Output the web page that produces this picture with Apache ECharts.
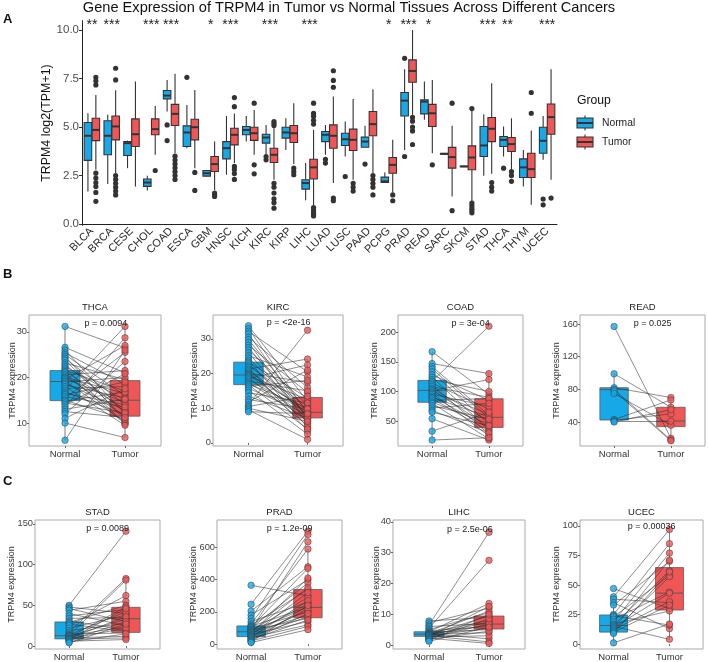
<!DOCTYPE html>
<html><head><meta charset="utf-8">
<script src="https://cdn.jsdelivr.net/npm/echarts@6/dist/echarts.min.js"></script>
<style>html,body{margin:0;padding:0;background:#fff}#c{width:708px;height:662px}</style>
</head><body><div id="c"></div>
<script>
// ---------- Panel A data ----------
const cancers = ['BLCA','BRCA','CESE','CHOL','COAD','ESCA','GBM','HNSC','KICH','KIRC','KIRP','LIHC','LUAD','LUSC','PAAD','PCPG','PRAD','READ','SARC','SKCM','STAD','THCA','THYM','UCEC'];
const stars = ['**','***','','***','***','','*','***','','***','','***','','','','*','***','*','','','***','**','','***'];
const yTicksA = [0, 2.5, 5, 7.5, 10];
// [lower whisker, q1, median, q3, upper whisker]
const normalStats = [
 [1.68,3.28,4.55,5.23,5.71],[2.06,3.57,4.55,5.32,5.63],[2.88,3.53,4.17,4.25,4.3],[1.73,1.94,2.14,2.32,2.49],
 [5.8,6.45,6.62,6.88,7.43],[3.9,4.0,4.72,5.06,6.14],[2.45,2.47,2.62,2.76,2.78],[2.54,3.36,3.91,4.25,5.57],
 [4.25,4.6,4.85,5.03,5.57],[3.57,4.17,4.46,4.63,5.11],[3.82,4.43,4.72,4.99,5.45],[1.22,1.8,2.11,2.28,3.14],
 [3.57,4.25,4.6,4.77,5.11],[3.48,4.05,4.37,4.68,5.28],[3.96,3.96,4.25,4.48,5.06],[2.14,2.14,2.2,2.42,2.66],
 [3.82,5.57,6.36,6.78,7.98],[5.37,5.68,6.31,6.4,7.34],[3.6,3.6,3.62,3.64,3.64],[2.96,2.96,2.97,2.98,2.98],
 [2.49,3.48,4.05,5.03,5.66],[3.48,4.0,4.34,4.51,5.03],[1.94,2.4,2.92,3.36,3.82],[3.31,3.65,4.29,4.99,5.57]
];
const tumorStats = [
 [2.8,4.3,4.85,5.45,6.65],[2.62,4.34,5.03,5.57,6.9],[1.94,4.0,4.63,5.42,7.34],[3.57,4.6,4.89,5.42,6.09],
 [3.65,5.08,5.68,6.17,7.74],[2.88,4.34,4.99,5.4,6.91],[1.75,2.71,3.09,3.48,4.25],[3.14,4.08,4.6,4.94,5.7],
 [3.57,4.31,4.68,4.99,5.88],[2.28,3.17,3.57,3.91,4.95],[3.1,4.2,4.68,5.08,6.23],[0.95,2.32,2.92,3.34,4.85],
 [2.11,3.91,4.55,5.11,6.57],[2.28,3.79,4.34,4.89,6.45],[2.62,4.55,5.15,5.8,6.95],[1.63,2.62,3.05,3.43,4.34],
 [5.63,7.31,7.89,8.46,10.0],[3.65,5.03,5.71,6.17,7.43],[1.42,2.88,3.45,3.95,5.06],[1.17,2.8,3.43,4.03,5.85],
 [2.59,4.25,4.91,5.49,7.26],[2.8,3.74,4.12,4.46,5.45],[0.99,2.4,2.83,3.65,4.82],[2.28,4.63,5.51,6.19,7.98]
];
const normalOutliers = [
 [],[],[],[],[5.11,4.3],[7.56],[],[],[],[3.48,3.31],[],[],[3.34,3.14],[2.45],[3.09],[],[8.54,3.48],[],[],[],[],[2.88],[],[1.29,0.99]
];
const tumorOutliers = [
 [7.56,7.38,7.17,2.62,2.37,2.14,1.94,1.63,1.17],[8.03,7.43,2.5,2.3,2.1,1.9,1.7,1.5],[],[2.76],
 [3.5,3.3,3.1,2.9,2.7,2.5,2.3],[2.66,1.73],[1.6,1.5,1.42],[6.52,6.05,2.97,2.8,2.6,2.3],
 [6.23,3.05,2.59],[5.28,5.18,5.08,2.1,1.9,1.6,1.3,1.1,0.82],[2.88,2.7,2.54],[6.23,5.7,5.55,5.35,5.15,0.85,0.72,0.6,0.5,0.42],
 [7.9,7.4,7.05,1.34,1.2],[2.1,1.9,1.7],[2.5,2.3,2.1,1.9,1.5],[1.5,1.2],
 [5.5,5.3,5.0,4.8,4.1],[3.05],[6.23,0.69],[5.95,1.08,0.95,0.82,0.7,0.58],
 [2.14,1.9,1.7],[2.7,2.5,2.2],[6.78,5.71],[1.34]
];

// ---------- Panels B / C data (paired samples) ----------
const thcaNormal = [31.2,26.6,26.0,25.4,25.0,24.6,24.2,23.8,23.2,22.8,22.4,22.0,21.6,21.3,21.0,20.6,20.3,20.0,19.8,19.5,19.2,19.0,18.7,18.4,18.0,17.6,17.2,16.8,16.5,16.2,15.8,15.4,15.0,14.8,14.4,14.0,13.5,13.0,12.5,12.0,11.0,10.0,6.2];
const thcaTumor  = [26.5,21.0,12.0,18.5,16.0,10.5,14.0,11.0,19.5,12.5,15.0,10.0,17.0,13.0,9.8,21.5,11.5,16.5,14.5,27.0,10.2,20.0,12.8,15.5,9.5,18.0,31.2,11.8,14.0,19.0,13.5,25.5,10.8,16.8,12.2,20.8,28.7,15.2,11.2,23.5,17.5,6.8,26.0];
const thcaBoxN = [6.2,14.9,19.1,21.5,31.2], thcaBoxT = [6.8,11.5,15.0,19.3,31.2];

const kircNormal = [33.8,33.0,32.2,31.5,30.5,29.8,29.0,28.2,27.5,26.8,26.0,25.2,24.5,23.8,23.3,22.8,22.2,21.8,21.3,20.9,20.5,20.1,19.8,19.6,19.3,19.0,18.6,18.2,17.8,17.4,17.0,16.8,16.3,15.8,15.2,14.5,13.5,12.5,11.8,11.0,10.5,10.0,9.5,9.0];
const kircTumor  = [12.0,8.5,20.5,7.0,16.0,9.0,5.5,14.5,7.5,11.0,6.5,19.0,8.0,4.5,13.0,7.8,10.5,3.5,24.2,8.7,6.0,17.5,9.5,7.3,12.5,5.0,22.5,8.9,15.0,6.8,10.0,4.0,18.0,8.2,2.5,11.5,7.1,9.8,21.0,32.5,13.5,6.2,1.0,8.4];
const kircBoxN = [9.0,16.8,19.6,23.3,33.8], kircBoxT = [1.0,7.2,8.8,13.1,24.2];

const coadNormal = [167,147,142,138,133,128,124,120,117,114,111,108,105,103,101,99,97,95,92,90,88,85,82,80,76,72,68,65,54,33,18];
const coadTumor  = [95,130,60,55,45,85,35,100,210,70,28,90,50,40,120,62,25,75,38,57,33,88,45,20,53,80,30,42,18,65,22];
const coadBoxN = [18,81.7,101.7,118.6,167], coadBoxT = [17,39.3,56.3,87.6,133];

const readNormal = [157,99,82,80,78,75,43,42,41,40];
const readTumor  = [20,58,70,18,17,36,67,50,41,55];
const readBoxN = [40,42.4,79.6,82,99], readBoxT = [17,34.3,41.2,58,70];

const stadNormal = [50,48,46,44,40,37,34,31,29,27,25,22,19,17,15,14,13,12.5,12,11,10,9.5,9,8.5,8,7,6,5,4];
const stadTumor  = [141,40,30,55,25,45,35,20,50,18,62,38,28,83,16,42,81,24,33,48,12,36,22,10,46,30,8,15,27];
const stadBoxN = [4,8.8,12.8,29.6,50], stadBoxT = [7,16.8,33.6,47.6,83];

const pradNormal = [365,248,205,180,160,140,125,115,110,105,100,95,90,86,82,78,75,72,68,64,60,56,52,48,45,40,35,30,25,20,15,10];
const pradTumor  = [300,700,480,400,680,260,590,340,230,470,380,200,635,160,290,230,350,180,410,250,140,320,210,170,270,120,220,150,190,110,240,90];
const pradBoxN = [10,46.7,77,113,205], pradBoxT = [90,163.6,228,339,590];

const lihcNormal = [7.8,7.2,6.5,6.0,5.5,5.0,4.6,4.3,4.1,3.9,3.7,3.6,3.5,3.4,3.3,3.2,3.0,2.9,2.8,2.6,2.4,2.2,2.0,1.8,1.5,1.2];
const lihcTumor  = [9,12,36.6,7,27.5,10.5,6,13.5,5,8,11,2,6.5,4,9.5,7.5,1,5.5,12.5,3,6.8,0.5,8.5,4.5,10,5.8];
const lihcBoxN = [1.2,2.8,3.5,4.3,6.5], lihcBoxT = [0.5,5.2,6.8,9.4,13.5];

const ucecNormal = [47,40,38,35,33,25,24,23,21,19,17,16,15,14,13,12,11,10,9,1];
const ucecTumor  = [30,97,35,13,70,85,16,58,44,77,28,62,4,43,71,36,57,33,61,17];
const ucecBoxN = [1,10.1,15.7,24.6,40], ucecBoxT = [4,28.8,43.1,64.7,97];

const pairTitles = ['THCA','KIRC','COAD','READ','STAD','PRAD','LIHC','UCEC'];
const pLabels = ['p = 0.0094','p = <2e-16','p = 3e-04','p = 0.025','p = 0.0089','p = 1.2e-09','p = 2.5e-06','p = 0.00036'];
const pairYTicks = [[10,20,30],[0,10,20,30],[50,100,150,200],[40,80,120,160],[0,50,100,150],[0,200,400,600],[0,10,20,30,40],[0,25,50,75,100]];
const groups = ['Normal','Tumor'];
const mainTitle = 'Gene Expression of TRPM4 in Tumor vs Normal Tissues Across Different Cancers';

// ---------- styling / layout ----------
const BLUE = '#17A9E7', RED = '#F05656', FONT = 'Liberation Sans, Arial, sans-serif';
const pairData = [
 [thcaNormal,thcaTumor,thcaBoxN,thcaBoxT],[kircNormal,kircTumor,kircBoxN,kircBoxT],
 [coadNormal,coadTumor,coadBoxN,coadBoxT],[readNormal,readTumor,readBoxN,readBoxT],
 [stadNormal,stadTumor,stadBoxN,stadBoxT],[pradNormal,pradTumor,pradBoxN,pradBoxT],
 [lihcNormal,lihcTumor,lihcBoxN,lihcBoxT],[ucecNormal,ucecTumor,ucecBoxN,ucecBoxT]
];
const pairLayout = [
 {left:29,width:132,top:315,height:131,ymin:4.95,ymax:33.7,gap:12},
 {left:213,width:130,top:315,height:131,ymin:-0.9,ymax:36.9,gap:14},
 {left:398,width:125,top:315,height:131,ymin:8,ymax:228.8,gap:19},
 {left:580,width:125,top:315,height:131,ymin:10.6,ymax:171,gap:19},
 {left:35,width:125,top:520,height:132,ymin:-3.6,ymax:154.8,gap:19},
 {left:217,width:125,top:520,height:132,ymin:-30,ymax:770,gap:19},
 {left:393,width:132,top:520,height:132,ymin:-1.3,ymax:40.6,gap:12},
 {left:580,width:123,top:520,height:132,ymin:-4.2,ymax:105,gap:19}
];

function boxShapes(cx, hw, ys, fill, stroke, lw, medW) {
  return [
    {type:'line', shape:{x1:cx,y1:ys[4],x2:cx,y2:ys[3]}, style:{stroke:stroke,lineWidth:lw}},
    {type:'line', shape:{x1:cx,y1:ys[1],x2:cx,y2:ys[0]}, style:{stroke:stroke,lineWidth:lw}},
    {type:'rect', shape:{x:cx-hw,y:ys[3],width:2*hw,height:Math.max(ys[1]-ys[3],0.5)}, style:{fill:fill,stroke:stroke,lineWidth:lw}},
    {type:'line', shape:{x1:cx-hw,y1:ys[2],x2:cx+hw,y2:ys[2]}, style:{stroke:stroke,lineWidth:medW}}
  ];
}

const series = [];
[[normalStats,-0.2,BLUE],[tumorStats,0.2,RED]].forEach(([stats,off,col]) => {
  series.push({
    type:'custom', xAxisIndex:0, yAxisIndex:0, z:2,
    encode:{x:0, y:[1,2,3,4,5]},
    data: stats.map((s,i)=>[i].concat(s)),
    renderItem: function(params, api){
      const i = api.value(0);
      const band = api.size([1,0])[0];
      const cx = api.coord([i,0])[0] + off*band;
      const hw = band*0.19;
      const ys = [1,2,3,4,5].map(d=>api.coord([i, api.value(d)])[1]);
      return {type:'group', children: boxShapes(cx, hw, ys, col, '#333', 1.1, 2)};
    }
  });
});
const outData = [];
normalOutliers.forEach((arr,i)=>arr.forEach(v=>outData.push([i,v,-0.2])));
tumorOutliers.forEach((arr,i)=>arr.forEach(v=>outData.push([i,v,0.2])));
series.push({
  type:'custom', xAxisIndex:0, yAxisIndex:0, z:3, encode:{x:0,y:1}, data: outData,
  renderItem: function(params, api){
    const band = api.size([1,0])[0];
    const p = api.coord([api.value(0), api.value(1)]);
    return {type:'circle', shape:{cx:p[0]+api.value(2)*band, cy:p[1], r:2.6}, style:{fill:'#333'}};
  }
});
series.push({
  type:'custom', xAxisIndex:0, yAxisIndex:0, z:3, encode:{x:0,y:1},
  data: cancers.map((c,i)=>[i,10.33]),
  renderItem: function(params, api){
    const p = api.coord([api.value(0), api.value(1)]);
    return {type:'text', x:p[0], y:p[1]+2, style:{text:stars[params.dataIndex], fill:'#222', font:'14px '+FONT, align:'center', verticalAlign:'middle'}};
  }
});

const grids = [{left:82, top:20.7, width:475, height:204.7}];
const xAxes = [{
  gridIndex:0, type:'category', data:cancers,
  axisLine:{lineStyle:{color:'#222',width:1}},
  axisTick:{alignWithLabel:true, length:3, lineStyle:{color:'#333'}},
  axisLabel:{rotate:45, interval:0, fontSize:11, color:'#2a2a2a', margin:4, fontFamily:FONT},
  splitLine:{show:false}
}];
const yAxes = [{
  gridIndex:0, type:'value', min:-0.07, max:10.48,
  axisLine:{show:true, lineStyle:{color:'#222',width:1}},
  axisTick:{show:true, length:3, customValues:yTicksA, lineStyle:{color:'#333'}},
  axisLabel:{customValues:yTicksA, formatter:v=>v.toFixed(1), fontSize:11.5, color:'#4d4d4d', margin:3, fontFamily:FONT},
  splitLine:{show:false},
  name:'TRPM4 log2(TPM+1)', nameLocation:'middle', nameGap:29, nameMoveOverlap:false,
  nameTextStyle:{fontSize:12.4, color:'#111', fontFamily:FONT}
}];
const graphics = [
  {type:'text', x:349, y:8, style:{text:mainTitle, font:'14.6px '+FONT, fill:'#111', align:'center', verticalAlign:'middle'}},
  {type:'text', left:3, top:13, style:{text:'A', font:'bold 13px '+FONT, fill:'#111'}},
  {type:'text', left:3, top:268, style:{text:'B', font:'bold 13px '+FONT, fill:'#111'}},
  {type:'text', left:3, top:475, style:{text:'C', font:'bold 13px '+FONT, fill:'#111'}},
  {type:'text', x:577, y:101, style:{text:'Group', font:'12.2px '+FONT, fill:'#111', verticalAlign:'middle'}},
  {type:'text', x:602, y:123, style:{text:'Normal', font:'10.3px '+FONT, fill:'#222', verticalAlign:'middle'}},
  {type:'text', x:602, y:142, style:{text:'Tumor', font:'10.3px '+FONT, fill:'#222', verticalAlign:'middle'}}
];
[[123,BLUE],[142,RED]].forEach(([cy,col])=>{
  graphics.push({type:'line', shape:{x1:585,y1:cy-7.5,x2:585,y2:cy+7.5}, style:{stroke:'#333',lineWidth:1.1}});
  graphics.push({type:'rect', shape:{x:577,y:cy-5,width:16,height:10}, style:{fill:col,stroke:'#333',lineWidth:1.1}});
  graphics.push({type:'line', shape:{x1:577,y1:cy,x2:593,y2:cy}, style:{stroke:'#333',lineWidth:2}});
});

pairLayout.forEach((L,k)=>{
  const g = k+1;
  const [nv, tv, bn, bt] = pairData[k];
  grids.push({left:L.left, top:L.top, width:L.width, height:L.height, show:true, borderColor:'#aaa', borderWidth:1, backgroundColor:'transparent'});
  xAxes.push({
    gridIndex:g, type:'value', min:0.4, max:2.6,
    axisLine:{show:false}, splitLine:{show:false},
    axisTick:{show:true, customValues:[1,2], length:2, lineStyle:{color:'#666'}},
    axisLabel:{customValues:[1,2], formatter:v=>groups[Math.round(v)-1], fontSize:9.5, color:'#333', margin:3, fontFamily:FONT}
  });
  yAxes.push({
    gridIndex:g, type:'value', min:L.ymin, max:L.ymax,
    axisLine:{show:false}, splitLine:{show:false},
    axisTick:{show:true, customValues:pairYTicks[k], length:2, lineStyle:{color:'#666'}},
    axisLabel:{customValues:pairYTicks[k], fontSize:9.3, color:'#444', margin:2, fontFamily:FONT},
    name:'TRPM4 expression', nameLocation:'middle', nameGap:L.gap, nameMoveOverlap:false,
    nameTextStyle:{fontSize:9, color:'#333', fontFamily:FONT}
  });
  graphics.push({type:'text', x:L.left+L.width/2, y:L.top-8, style:{text:pairTitles[k], font:'9.5px '+FONT, fill:'#222', align:'center', verticalAlign:'middle'}});
  series.push({
    type:'custom', xAxisIndex:g, yAxisIndex:g, z:2, encode:{x:0,y:[1,2,3,4,5]},
    data:[[1].concat(bn),[2].concat(bt)],
    renderItem: function(params, api){
      const x = api.value(0);
      const cx = api.coord([x,0])[0];
      const hw = api.size([0.25,0])[0];
      const ys = [1,2,3,4,5].map(d=>api.coord([x, api.value(d)])[1]);
      return {type:'group', children: boxShapes(cx, hw, ys, x===1?BLUE:RED, '#5a5a5a', 0.8, 1)};
    }
  });
  series.push({
    type:'lines', coordinateSystem:'cartesian2d', xAxisIndex:g, yAxisIndex:g, z:3,
    data: nv.map((v,i)=>({coords:[[1,v],[2,tv[i]]]})),
    lineStyle:{color:'#333', width:0.9, opacity:0.62}, silent:true
  });
  series.push({
    type:'scatter', xAxisIndex:g, yAxisIndex:g, z:4, symbolSize:6.5,
    data: nv.map(v=>({value:[1,v], itemStyle:{color:BLUE}})).concat(tv.map(v=>({value:[2,v], itemStyle:{color:RED}}))),
    itemStyle:{borderColor:'#333', borderWidth:0.6}
  });
  const ymaxData = Math.max(...nv, ...tv);
  series.push({
    type:'custom', xAxisIndex:g, yAxisIndex:g, z:5, encode:{x:0,y:1}, data:[[1.68, ymaxData]],
    renderItem: function(params, api){
      const p = api.coord([api.value(0), api.value(1)]);
      return {type:'text', x:p[0], y:p[1]-3, style:{text:pLabels[k], fill:'#222', font:'9px '+FONT, align:'center', verticalAlign:'middle'}};
    }
  });
});

const chart = echarts.init(document.getElementById('c'), null, {renderer:'canvas'});
chart.setOption({
  animation:false, backgroundColor:'#fff',
  textStyle:{fontFamily:FONT},
  grid:grids, xAxis:xAxes, yAxis:yAxes, series:series, graphic:graphics
});
</script></body></html>
